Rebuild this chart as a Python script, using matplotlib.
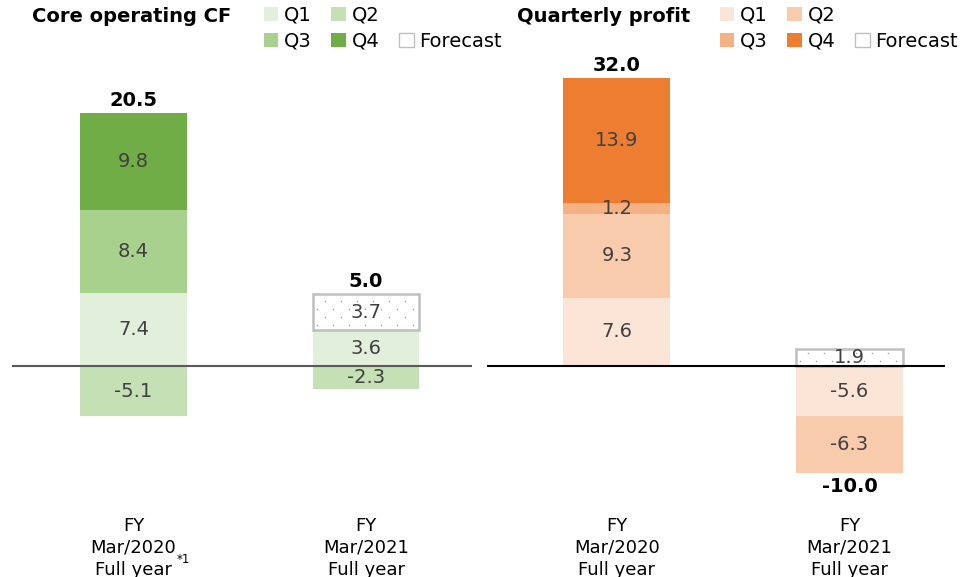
import numpy as np
from matplotlib import pyplot as plt
from matplotlib.patches import Patch

plt.rcParams['font.family'] = ['DejaVu Sans']

categories = ["FY\nMar/2020\nFull year", "FY\nMar/2021\nFull year"]
footnotes = ["*1", ""]
profit_categories = ["FY\nMar/2020\nFull year", "FY\nMar/2021\nFull year"]
quarters = ["Q1", "Q2", "Q3", "Q4"]

# core operating CF (billion), per quarter, None = no value
cf_quarters = [[7.4, -5.1, 8.4, 9.8], [3.6, -2.3, None, None]]
cf_forecast = [None, 3.7]
cf_totals = [20.5, 5.0]

profit_quarters = [[7.6, 9.3, 1.2, 13.9], [-5.6, -6.3, None, None]]
profit_forecast = [None, 1.9]
profit_totals = [32.0, -10.0]

green = ["#e2efda", "#c5e0b4", "#a9d18e", "#70ad47"]
orange = ["#fbe5d6", "#f8cbad", "#f4b183", "#ed7d31"]

W, H = 969, 577
fig = plt.figure(figsize=(W / 100, H / 100), dpi=100)


def px_axes(x0, x1, y0, y1):
    return fig.add_axes([x0 / W, 1 - y1 / H, (x1 - x0) / W, (y1 - y0) / H])


def dot_fill(ax, x, width, bottom, height):
    # dotted pattern like the office "5%" fill: 16px columns, 8px rows, staggered
    (x0, y0), (x1, y1) = ax.transData.transform([(x - width / 2, min(bottom, bottom + height)),
                                                 (x + width / 2, max(bottom, bottom + height))])
    pts = []
    for r, yy in enumerate(np.arange(y0 + 5, y1 - 3, 8)):
        start = x0 + 4 + (8 if r % 2 else 0)
        for xx in np.arange(start, x1 - 3, 16):
            pts.append((xx, yy))
    if pts:
        data = ax.transData.inverted().transform(pts)
        ax.scatter(data[:, 0], data[:, 1], s=1.3, color="#a6a6a6", linewidths=0, zorder=3)


def draw_panel(ax, qvals, fvals, totals, colors, cats, notes, xlim, ylim, line_color):
    width = 0.46
    ax.set_xlim(*xlim)
    ax.set_ylim(*ylim)
    ax.axis("off")
    for i, (qs, fc, tot) in enumerate(zip(qvals, fvals, totals)):
        pos, neg = 0.0, 0.0
        segs = [(v, colors[k], False) for k, v in enumerate(qs) if v is not None]
        if fc is not None:
            segs.append((fc, "white", True))
        for v, c, is_fc in segs:
            bottom = pos if v >= 0 else neg
            if is_fc:
                ax.bar(i, v, width, bottom=bottom, facecolor="white", edgecolor="#bfbfbf",
                       linewidth=1.8, zorder=2)
                dot_fill(ax, i, width, bottom, v)
            else:
                ax.bar(i, v, width, bottom=bottom, color=c, linewidth=0, zorder=2)
            ax.text(i, bottom + v / 2, f"{v:.1f}", ha="center", va="center",
                    fontsize=14, color="#404040", zorder=4)
            if v >= 0:
                pos += v
            else:
                neg += v
        if tot >= 0:
            ax.annotate(f"{tot:.1f}", (i, pos), xytext=(0, 2), textcoords="offset points",
                        ha="center", va="bottom", fontsize=14, fontweight="bold", color="black")
        else:
            ax.annotate(f"{tot:.1f}", (i, neg), xytext=(0, -3), textcoords="offset points",
                        ha="center", va="top", fontsize=14, fontweight="bold", color="black")
        ax.annotate(cats[i], (i, 0), xycoords=("data", "axes fraction"), xytext=(0, -12),
                    textcoords="offset points", ha="center", va="top", fontsize=13,
                    linespacing=1.28, color="black")
        if notes and notes[i]:
            ax.annotate(notes[i], (i, 0), xycoords=("data", "axes fraction"), xytext=(31, -38),
                        textcoords="offset points", ha="left", va="top", fontsize=8.5,
                        color="black")
    ax.axhline(0, color=line_color, linewidth=1.5, zorder=3)


ax1 = px_axes(12, 472, 60, 500)
draw_panel(ax1, cf_quarters, cf_forecast, cf_totals, green, categories, footnotes,
           (-0.5226, 1.4559), (-13.54, 30.91), "#595959")

ax2 = px_axes(487, 945, 60, 500)
draw_panel(ax2, profit_quarters, profit_forecast, profit_totals, orange, profit_categories, None,
           (-0.559, 1.411), (-14.89, 34.0), "black")

fig.text(32 / W, 1 - 17 / H, "Core operating CF", fontsize=14, fontweight="bold", va="center")
fig.text(517 / W, 1 - 17 / H, "Quarterly profit", fontsize=14, fontweight="bold", va="center")


def legend(colors, x):
    q = [Patch(facecolor=c, edgecolor="none", label=l) for c, l in zip(colors, quarters)]
    blank = Patch(facecolor="none", edgecolor="none", label=" ")
    fc = Patch(facecolor="white", edgecolor="#c0c0c0", label="Forecast")
    handles = [q[0], q[2], q[1], q[3], blank, fc]
    fig.legend(handles=handles, ncol=3, loc="upper left", bbox_to_anchor=(x / W, 1 + 4 / H),
               frameon=False, fontsize=14, handlelength=0.75, handleheight=0.75,
               handletextpad=0.3, columnspacing=1.0, labelspacing=0.36, borderpad=0.0)


legend(green, 254)
legend(orange, 710)

fig.savefig("out.png", dpi=100)
